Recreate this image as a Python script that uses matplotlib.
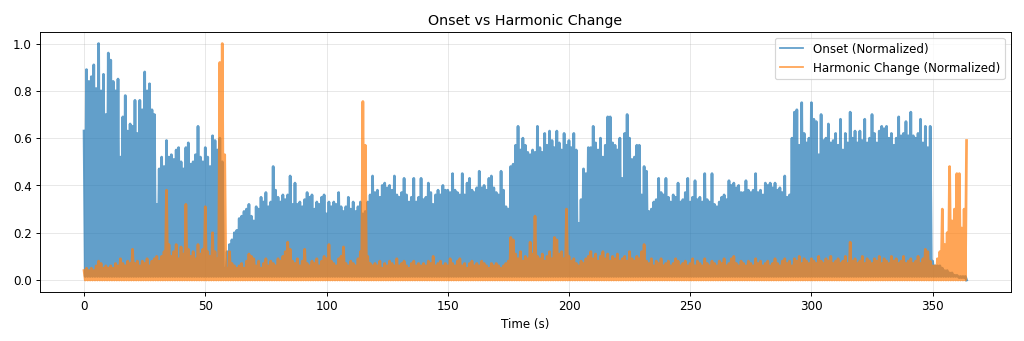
import numpy as np
from matplotlib import pyplot as plt

# peak value reached in each one-second window (t = 0 .. 364 s)
onset_peak = [
    0.63, 0.89, 0.84, 0.86, 0.91, 0.81, 1.00, 0.80, 0.87, 0.70,
    0.96, 0.93, 0.84, 0.80, 0.85, 0.52, 0.69, 0.78, 0.63, 0.66,
    0.65, 0.76, 0.62, 0.76, 0.72, 0.88, 0.80, 0.83, 0.72, 0.70,
    0.32, 0.47, 0.52, 0.48, 0.59, 0.52, 0.53, 0.51, 0.55, 0.56,
    0.50, 0.47, 0.56, 0.58, 0.49, 0.50, 0.53, 0.65, 0.52, 0.50,
    0.56, 0.52, 0.48, 0.61, 0.59, 0.55, 0.60, 0.50, 0.05, 0.12,
    0.15, 0.17, 0.20, 0.21, 0.26, 0.27, 0.29, 0.30, 0.32, 0.27,
    0.25, 0.31, 0.30, 0.35, 0.33, 0.37, 0.31, 0.33, 0.48, 0.38,
    0.35, 0.33, 0.36, 0.34, 0.36, 0.44, 0.32, 0.41, 0.32, 0.33,
    0.31, 0.34, 0.37, 0.35, 0.36, 0.30, 0.33, 0.32, 0.35, 0.36,
    0.28, 0.33, 0.31, 0.33, 0.32, 0.37, 0.31, 0.29, 0.31, 0.35,
    0.30, 0.33, 0.29, 0.31, 0.33, 0.28, 0.29, 0.33, 0.36, 0.44,
    0.37, 0.38, 0.35, 0.40, 0.41, 0.39, 0.40, 0.38, 0.44, 0.36,
    0.35, 0.37, 0.43, 0.36, 0.33, 0.35, 0.43, 0.33, 0.35, 0.43,
    0.34, 0.35, 0.41, 0.37, 0.32, 0.36, 0.38, 0.36, 0.40, 0.38,
    0.38, 0.37, 0.45, 0.38, 0.37, 0.36, 0.45, 0.36, 0.41, 0.43,
    0.38, 0.37, 0.39, 0.46, 0.39, 0.40, 0.38, 0.43, 0.44, 0.39,
    0.37, 0.36, 0.46, 0.38, 0.31, 0.30, 0.48, 0.49, 0.57, 0.65,
    0.55, 0.60, 0.57, 0.54, 0.53, 0.55, 0.54, 0.65, 0.56, 0.54,
    0.62, 0.57, 0.63, 0.59, 0.56, 0.63, 0.58, 0.55, 0.62, 0.57,
    0.59, 0.56, 0.62, 0.55, 0.24, 0.34, 0.47, 0.45, 0.56, 0.56,
    0.65, 0.58, 0.55, 0.60, 0.52, 0.57, 0.69, 0.69, 0.58, 0.57,
    0.55, 0.60, 0.43, 0.62, 0.70, 0.60, 0.51, 0.52, 0.57, 0.57,
    0.36, 0.48, 0.46, 0.29, 0.30, 0.33, 0.34, 0.43, 0.37, 0.36,
    0.43, 0.35, 0.33, 0.36, 0.35, 0.41, 0.33, 0.34, 0.37, 0.43,
    0.33, 0.35, 0.42, 0.34, 0.35, 0.33, 0.45, 0.34, 0.33, 0.45,
    0.32, 0.31, 0.33, 0.35, 0.36, 0.34, 0.42, 0.40, 0.41, 0.39,
    0.40, 0.37, 0.37, 0.42, 0.38, 0.37, 0.38, 0.45, 0.37, 0.38,
    0.36, 0.41, 0.40, 0.41, 0.39, 0.41, 0.38, 0.39, 0.37, 0.44,
    0.35, 0.36, 0.60, 0.71, 0.72, 0.57, 0.75, 0.62, 0.58, 0.60,
    0.75, 0.68, 0.67, 0.53, 0.70, 0.59, 0.60, 0.66, 0.58, 0.59,
    0.62, 0.57, 0.68, 0.55, 0.62, 0.58, 0.71, 0.60, 0.63, 0.58,
    0.63, 0.59, 0.68, 0.58, 0.60, 0.70, 0.62, 0.58, 0.63, 0.65,
    0.64, 0.65, 0.60, 0.62, 0.57, 0.60, 0.69, 0.61, 0.62, 0.67,
    0.61, 0.71, 0.61, 0.60, 0.62, 0.68, 0.58, 0.65, 0.56, 0.65,
    0.08, 0.06, 0.06, 0.06, 0.05, 0.04, 0.04, 0.03, 0.03, 0.02,
    0.02, 0.01, 0.01, 0.01, 0.00,
]

harmonic_peak = [
    0.04, 0.05, 0.04, 0.05, 0.04, 0.06, 0.08, 0.07, 0.05, 0.06,
    0.05, 0.06, 0.05, 0.07, 0.06, 0.09, 0.07, 0.06, 0.08, 0.07,
    0.13, 0.07, 0.08, 0.06, 0.08, 0.07, 0.09, 0.06, 0.08, 0.09,
    0.10, 0.08, 0.10, 0.12, 0.38, 0.15, 0.10, 0.12, 0.15, 0.09,
    0.14, 0.11, 0.32, 0.13, 0.10, 0.12, 0.09, 0.15, 0.11, 0.13,
    0.31, 0.12, 0.10, 0.20, 0.12, 0.09, 0.92, 1.00, 0.53, 0.05,
    0.12, 0.07, 0.06, 0.05, 0.06, 0.07, 0.05, 0.08, 0.11, 0.10,
    0.09, 0.06, 0.08, 0.05, 0.07, 0.09, 0.06, 0.08, 0.07, 0.06,
    0.09, 0.08, 0.10, 0.12, 0.16, 0.13, 0.08, 0.07, 0.09, 0.06,
    0.08, 0.13, 0.07, 0.06, 0.08, 0.07, 0.09, 0.06, 0.08, 0.10,
    0.09, 0.15, 0.08, 0.07, 0.06, 0.09, 0.10, 0.14, 0.07, 0.06,
    0.08, 0.07, 0.06, 0.09, 0.12, 0.755, 0.57, 0.10, 0.07, 0.06,
    0.07, 0.06, 0.08, 0.05, 0.07, 0.06, 0.08, 0.07, 0.06, 0.09,
    0.06, 0.07, 0.08, 0.06, 0.05, 0.07, 0.08, 0.06, 0.07, 0.06,
    0.07, 0.06, 0.08, 0.07, 0.10, 0.06, 0.07, 0.08, 0.06, 0.07,
    0.06, 0.09, 0.07, 0.06, 0.08, 0.09, 0.06, 0.07, 0.05, 0.07,
    0.08, 0.06, 0.07, 0.06, 0.08, 0.07, 0.06, 0.05, 0.07, 0.06,
    0.07, 0.06, 0.05, 0.06, 0.07, 0.08, 0.18, 0.17, 0.11, 0.09,
    0.12, 0.08, 0.10, 0.09, 0.16, 0.11, 0.27, 0.10, 0.09, 0.11,
    0.08, 0.10, 0.12, 0.09, 0.18, 0.17, 0.11, 0.12, 0.09, 0.30,
    0.10, 0.08, 0.09, 0.07, 0.06, 0.08, 0.07, 0.09, 0.10, 0.12,
    0.09, 0.11, 0.08, 0.10, 0.12, 0.09, 0.11, 0.08, 0.10, 0.09,
    0.11, 0.08, 0.09, 0.10, 0.08, 0.12, 0.09, 0.08, 0.10, 0.09,
    0.12, 0.15, 0.08, 0.07, 0.09, 0.06, 0.08, 0.07, 0.09, 0.06,
    0.07, 0.08, 0.06, 0.07, 0.09, 0.08, 0.06, 0.07, 0.08, 0.06,
    0.07, 0.09, 0.06, 0.08, 0.07, 0.06, 0.09, 0.07, 0.06, 0.08,
    0.07, 0.06, 0.08, 0.07, 0.09, 0.06, 0.07, 0.09, 0.10, 0.07,
    0.06, 0.08, 0.07, 0.06, 0.08, 0.07, 0.06, 0.09, 0.07, 0.08,
    0.06, 0.07, 0.08, 0.06, 0.07, 0.09, 0.07, 0.06, 0.08, 0.09,
    0.07, 0.08, 0.06, 0.09, 0.08, 0.10, 0.07, 0.09, 0.08, 0.07,
    0.09, 0.08, 0.07, 0.10, 0.08, 0.07, 0.09, 0.08, 0.10, 0.07,
    0.08, 0.09, 0.07, 0.08, 0.10, 0.07, 0.16, 0.08, 0.09, 0.07,
    0.08, 0.10, 0.07, 0.09, 0.08, 0.07, 0.09, 0.08, 0.10, 0.07,
    0.09, 0.08, 0.07, 0.10, 0.08, 0.09, 0.07, 0.08, 0.10, 0.07,
    0.08, 0.09, 0.07, 0.08, 0.10, 0.07, 0.09, 0.13, 0.12, 0.08,
    0.06, 0.06, 0.09, 0.12, 0.30, 0.15, 0.20, 0.48, 0.25, 0.30,
    0.45, 0.45, 0.22, 0.30, 0.59,
]

# lowest level the signals drop to between peaks
onset_floor = 0.015
harmonic_floor = 0.0


def spiky(peaks, floor):
    # alternate each window's peak with the floor level half a second later
    peaks = np.asarray(peaks, dtype=float)
    t = np.arange(len(peaks), dtype=float)
    x = np.empty(2 * len(peaks) - 1)
    y = np.empty_like(x)
    x[0::2] = t
    y[0::2] = peaks
    x[1::2] = t[:-1] + 0.5
    y[1::2] = floor
    return x, y


t_on, onset = spiky(onset_peak, onset_floor)
t_hc, harmonic = spiky(harmonic_peak, harmonic_floor)

dpi = 1024 / 12
fig, ax = plt.subplots(figsize=(12, 4), dpi=dpi)
# thick strokes so the dense spikes merge into a solid band
ax.plot(t_on, onset, color="tab:blue", alpha=0.7, linewidth=2.3, label="Onset (Normalized)")
ax.plot(t_hc, harmonic, color="tab:orange", alpha=0.7, linewidth=2.3, label="Harmonic Change (Normalized)")
ax.set_title("Onset vs Harmonic Change")
ax.set_xlabel("Time (s)")
ax.grid(True, alpha=0.3)
leg = ax.legend(loc="upper right")
for line in leg.get_lines():
    line.set_linewidth(1.5)
fig.subplots_adjust(left=0.039, right=0.987, top=0.906, bottom=0.144)
fig.savefig("out.png", dpi=dpi)
